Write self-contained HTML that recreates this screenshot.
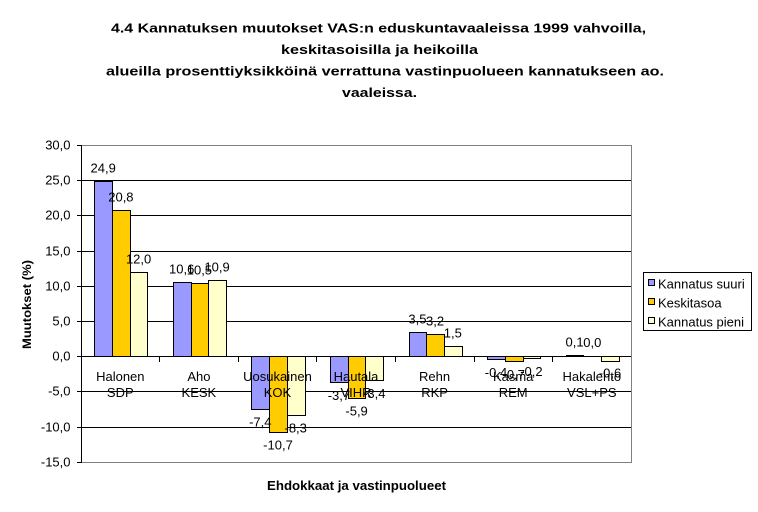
<!DOCTYPE html>
<html>
<head>
<meta charset="utf-8">
<style>
html,body{margin:0;padding:0;background:#fff;}
svg{display:block;}
text{font-family:"Liberation Sans",Arial,sans-serif;fill:#000;}
</style>
</head>
<body>
<svg width="758" height="512" viewBox="0 0 758 512" xmlns="http://www.w3.org/2000/svg">
<rect x="0" y="0" width="758" height="512" fill="#fff"/>
<!-- Title -->
<g font-weight="bold" font-size="13">
<text x="111" y="32.5" textLength="535" lengthAdjust="spacingAndGlyphs">4.4 Kannatuksen muutokset VAS:n eduskuntavaaleissa 1999 vahvoilla,</text>
<text x="281" y="54" textLength="197" lengthAdjust="spacingAndGlyphs">keskitasoisilla ja heikoilla</text>
<text x="106" y="75.5" textLength="558" lengthAdjust="spacingAndGlyphs">alueilla prosenttiyksikköinä verrattuna vastinpuolueen kannatukseen ao.</text>
<text x="342" y="97" textLength="75" lengthAdjust="spacingAndGlyphs">vaaleissa.</text>
</g>

<!-- gridlines -->
<g shape-rendering="crispEdges">
<rect x="81" y="180" width="550" height="1" fill="#000"/>
<rect x="81" y="215" width="550" height="1" fill="#000"/>
<rect x="81" y="251" width="550" height="1" fill="#000"/>
<rect x="81" y="286" width="550" height="1" fill="#000"/>
<rect x="81" y="321" width="550" height="1" fill="#000"/>
<rect x="81" y="391" width="550" height="1" fill="#000"/>
<rect x="81" y="427" width="550" height="1" fill="#000"/>
<!-- border -->
<rect x="81" y="145" width="551" height="1" fill="#808080"/>
<rect x="81" y="462" width="551" height="1" fill="#808080"/>
<rect x="631" y="145" width="1" height="318" fill="#808080"/>
</g>

<!-- bars -->
<g stroke="#000" stroke-width="1" shape-rendering="crispEdges">
<!-- Halonen -->
<rect x="94.5" y="181.5" width="18" height="175" fill="#9999FF"/>
<rect x="112.5" y="210.5" width="18" height="146" fill="#FFCC00"/>
<rect x="130.5" y="272.5" width="17" height="84" fill="#FFFFCC"/>
<!-- Aho -->
<rect x="173.5" y="282.5" width="18" height="74" fill="#9999FF"/>
<rect x="191.5" y="283.5" width="17" height="73" fill="#FFCC00"/>
<rect x="208.5" y="280.5" width="18" height="76" fill="#FFFFCC"/>
<!-- Uosukainen -->
<rect x="251.5" y="356.5" width="18" height="53" fill="#9999FF"/>
<rect x="269.5" y="356.5" width="18" height="76" fill="#FFCC00"/>
<rect x="287.5" y="356.5" width="18" height="59" fill="#FFFFCC"/>
<!-- Hautala -->
<rect x="330.5" y="356.5" width="18" height="26" fill="#9999FF"/>
<rect x="348.5" y="356.5" width="17" height="42" fill="#FFCC00"/>
<rect x="365.5" y="356.5" width="18" height="24" fill="#FFFFCC"/>
<!-- Rehn -->
<rect x="409.5" y="332.5" width="17" height="24" fill="#9999FF"/>
<rect x="426.5" y="334.5" width="18" height="22" fill="#FFCC00"/>
<rect x="444.5" y="346.5" width="18" height="10" fill="#FFFFCC"/>
<!-- Kasma -->
<rect x="487.5" y="356.5" width="18" height="3" fill="#9999FF"/>
<rect x="505.5" y="356.5" width="18" height="5" fill="#FFCC00"/>
<rect x="523.5" y="356.5" width="17" height="2" fill="#FFFFCC"/>
<!-- Hakalehto -->
<rect x="566.5" y="355.5" width="17" height="1" fill="#9999FF"/>
<rect x="601.5" y="356.5" width="18" height="5" fill="#FFFFCC"/>
</g>

<!-- axes -->
<g shape-rendering="crispEdges" fill="#000">
<rect x="81" y="356" width="550" height="1"/>
<rect x="81" y="145" width="1" height="318"/>
<rect x="77" y="145" width="4" height="1"/>
<rect x="77" y="180" width="4" height="1"/>
<rect x="77" y="215" width="4" height="1"/>
<rect x="77" y="251" width="4" height="1"/>
<rect x="77" y="286" width="4" height="1"/>
<rect x="77" y="321" width="4" height="1"/>
<rect x="77" y="356" width="4" height="1"/>
<rect x="77" y="391" width="4" height="1"/>
<rect x="77" y="427" width="4" height="1"/>
<rect x="77" y="462" width="4" height="1"/>
<rect x="159" y="356" width="1" height="6"/>
<rect x="238" y="356" width="1" height="6"/>
<rect x="316" y="356" width="1" height="6"/>
<rect x="395" y="356" width="1" height="6"/>
<rect x="474" y="356" width="1" height="6"/>
<rect x="552" y="356" width="1" height="6"/>
</g>

<!-- y tick labels -->
<g font-size="13" text-anchor="end">
<text x="70.5" y="149.5">30,0</text>
<text x="70.5" y="184.5">25,0</text>
<text x="70.5" y="219.5">20,0</text>
<text x="70.5" y="255.5">15,0</text>
<text x="70.5" y="290.5">10,0</text>
<text x="70.5" y="325.5">5,0</text>
<text x="70.5" y="360.5">0,0</text>
<text x="70.5" y="395.5">-5,0</text>
<text x="70.5" y="431.5">-10,0</text>
<text x="70.5" y="466.5">-15,0</text>
</g>

<!-- category labels -->
<g font-size="13" text-anchor="middle">
<text x="120.3" y="381">Halonen</text><text x="120.3" y="397">SDP</text>
<text x="198.9" y="381">Aho</text><text x="198.9" y="397">KESK</text>
<text x="277.5" y="381">Uosukainen</text><text x="277.5" y="397">KOK</text>
<text x="356" y="381">Hautala</text><text x="356" y="397">VIHR</text>
<text x="434.6" y="381">Rehn</text><text x="434.6" y="397">RKP</text>
<text x="513.2" y="381">Kasma</text><text x="513.2" y="397">REM</text>
<text x="591.8" y="381">Hakalehto</text><text x="591.8" y="397">VSL+PS</text>
</g>

<!-- value labels -->
<g font-size="13" text-anchor="middle">
<text x="103.2" y="172.5">24,9</text>
<text x="120.9" y="201.5">20,8</text>
<text x="138.6" y="263.5">12,0</text>
<text x="181.7" y="273.5">10,6</text>
<text x="199.4" y="274.5">10,5</text>
<text x="217.1" y="271.5">10,9</text>
<text x="260.3" y="426.5">-7,4</text>
<text x="278" y="449.5">-10,7</text>
<text x="295.7" y="432.5">-8,3</text>
<text x="338.9" y="400">-3,7</text>
<text x="356.6" y="415.5">-5,9</text>
<text x="374.3" y="398">-3,4</text>
<text x="417.4" y="323.5">3,5</text>
<text x="435.1" y="325.5">3,2</text>
<text x="452.8" y="337.5">1,5</text>
<text x="496" y="377">-0,4</text>
<text x="513.7" y="379">-0,7</text>
<text x="531.4" y="376">-0,2</text>
<text x="574.6" y="346.5">0,1</text>
<text x="592.3" y="347">0,0</text>
<text x="610" y="377.5">-0,6</text>
</g>

<!-- axis titles -->
<text x="267" y="490" font-size="13" font-weight="bold" textLength="179" lengthAdjust="spacingAndGlyphs">Ehdokkaat ja vastinpuolueet</text>
<text transform="translate(31,349) rotate(-90)" x="0" y="0" font-size="12" font-weight="bold" textLength="89" lengthAdjust="spacingAndGlyphs">Muutokset (%)</text>

<!-- legend -->
<g shape-rendering="crispEdges">
<rect x="643.5" y="272.5" width="108" height="58" fill="#fff" stroke="#000" stroke-width="1"/>
<rect x="648.5" y="279.5" width="6" height="6" fill="#9999FF" stroke="#000" stroke-width="1"/>
<rect x="648.5" y="298.5" width="6" height="6" fill="#FFCC00" stroke="#000" stroke-width="1"/>
<rect x="648.5" y="317.5" width="6" height="6" fill="#FFFFCC" stroke="#000" stroke-width="1"/>
</g>
<g font-size="13">
<text x="658" y="288.5">Kannatus suuri</text>
<text x="658" y="307.5">Keskitasoa</text>
<text x="658" y="326.5">Kannatus pieni</text>
</g>
</svg>
</body>
</html>
